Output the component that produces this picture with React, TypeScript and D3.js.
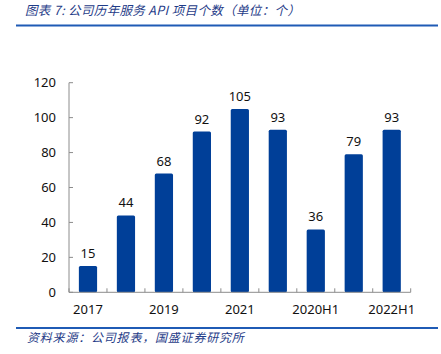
import { scaleBand, scaleLinear } from "d3";

const width = 441;
const height = 354;

const categories = ["2017", "2018", "2019", "2020", "2021", "2022", "2020H1", "2021H1", "2022H1"];
const values = [15, 44, 68, 92, 105, 93, 36, 79, 93];
const yTicks = [0, 20, 40, 60, 80, 100, 120];

const title = "图表 7:  公司历年服务 API 项目个数（单位：个）";
const source = "资料来源：公司报表，国盛证券研究所";

const barColor = "#003f98";
const axisColor = "#8c8c8c";
const numFont = "'Noto Sans', 'Liberation Sans', sans-serif";
const cjkFont = "'Noto Sans CJK SC', sans-serif";

export default function App() {
    const xScale = scaleBand<string>()
        .domain(categories)
        .range([69, 410.7])
        .paddingInner(0.52)
        .paddingOuter(0.26);

    const yScale = scaleLinear().domain([0, 120]).range([292.3, 82.7]);

    const step = xScale.step();
    const bw = xScale.bandwidth();
    const x0 = xScale.range()[0];
    const x1 = xScale.range()[1];
    const y0 = yScale(0);

    // tick marks sit between bands
    const boundaries = categories.map((c) => (xScale(c) as number) - (step * 0.52) / 2);
    boundaries.push(x1);

    return (
        <svg
            width={width}
            height={height}
            style={{ position: "absolute", left: 0, top: 0, background: "#fff" }}
        >
            <text
                x={25}
                y={15}
                fontFamily={cjkFont}
                fontStyle="italic"
                fontSize={12.5}
                letterSpacing={0.35}
                fill="#1f3c88"
            >
                {title}
            </text>
            <line x1={16} x2={438} y1={25.5} y2={25.5} stroke="#1f5bb5" strokeWidth={2} />

            {/* y axis */}
            <line x1={x0} x2={x0} y1={yScale(120)} y2={y0} stroke={axisColor} />
            {yTicks.map((t) => (
                <g key={t} transform={`translate(0,${yScale(t)})`}>
                    <line x1={x0} x2={x0 + 4} y1={0} y2={0} stroke={axisColor} />
                    <text
                        x={56}
                        y={0}
                        dy="0.35em"
                        textAnchor="end"
                        fontFamily={numFont}
                        fontSize={13}
                        fill="#111"
                    >
                        {t}
                    </text>
                </g>
            ))}

            {/* bars */}
            {categories.map((c, i) => (
                <g key={c}>
                    <rect
                        x={xScale(c)}
                        y={yScale(values[i])}
                        width={bw}
                        height={y0 - yScale(values[i])}
                        rx={1.5}
                        fill={barColor}
                    />
                    <text
                        x={(xScale(c) as number) + bw / 2}
                        y={yScale(values[i]) - 8}
                        textAnchor="middle"
                        fontFamily={numFont}
                        fontSize={13}
                        fill="#111"
                    >
                        {values[i]}
                    </text>
                </g>
            ))}

            {/* x axis */}
            <line x1={x0} x2={x1} y1={y0} y2={y0} stroke={axisColor} />
            {boundaries.map((b, i) => (
                <line key={i} x1={b} x2={b} y1={y0} y2={y0 - 4} stroke={axisColor} />
            ))}
            {categories.map((c, i) =>
                i % 2 === 0 ? (
                    <text
                        key={c}
                        x={(xScale(c) as number) + bw / 2}
                        y={314}
                        textAnchor="middle"
                        fontFamily={numFont}
                        fontSize={13}
                        fill="#111"
                    >
                        {c}
                    </text>
                ) : null
            )}

            <line x1={16} x2={438} y1={328} y2={328} stroke="#1f5bb5" strokeWidth={2} />
            <text
                x={27}
                y={342}
                fontFamily={cjkFont}
                fontStyle="italic"
                fontSize={12}
                letterSpacing={0.8}
                fill="#1f3c88"
            >
                {source}
            </text>
        </svg>
    );
}
